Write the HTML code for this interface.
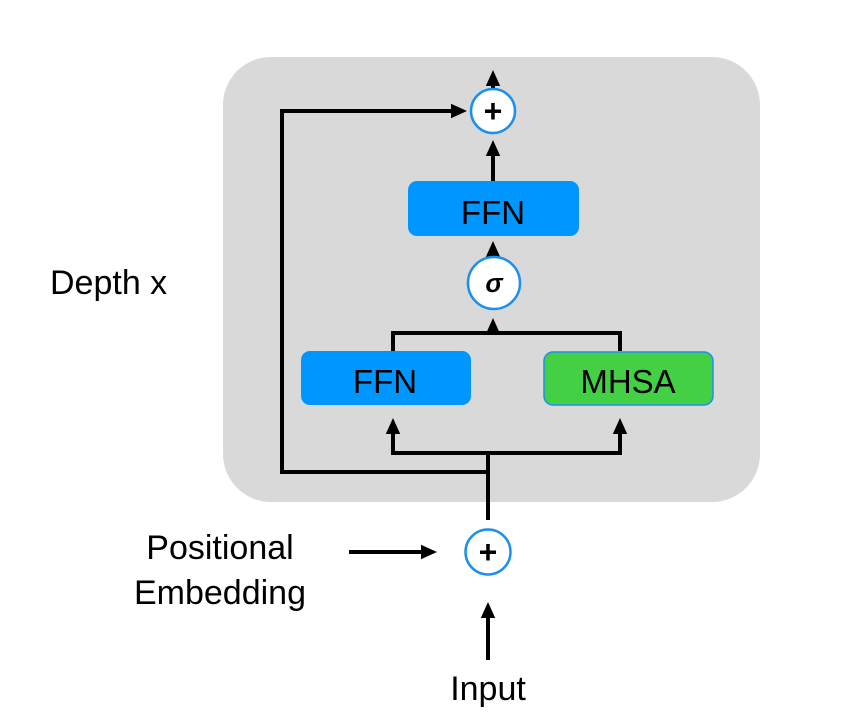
<!DOCTYPE html>
<html><head><style>body{margin:0;background:#fff}svg{display:block}text{font-family:"Liberation Sans",sans-serif}</style></head>
<body>
<svg width="855" height="717" viewBox="0 0 855 717" xmlns="http://www.w3.org/2000/svg">
<defs><marker id="a" markerWidth="5" markerHeight="4" refX="1" refY="2" orient="auto" markerUnits="strokeWidth"><path d="M0,0.2 L4,2 L0,3.8 z" fill="#000"/></marker></defs>
<rect x="223" y="57" width="537" height="445" rx="48" fill="#d9d9d9"/>
<g stroke="#000" stroke-width="4" fill="none">
<polyline points="488,520 488,472 282,472 282,111 455,111" marker-end="url(#a)"/>
<line x1="488" y1="472" x2="488" y2="453"/>
<line x1="493" y1="88" x2="493" y2="82" marker-end="url(#a)"/>
<line x1="493" y1="181" x2="493" y2="152" marker-end="url(#a)"/>
<line x1="493" y1="256" x2="493" y2="253" marker-end="url(#a)"/>
<polyline points="393,351 393,333 620,333 620,351"/>
<line x1="493" y1="333" x2="493" y2="330" marker-end="url(#a)"/>
<polyline points="393,430 393,453 620,453 620,430"/>
<line x1="393" y1="432" x2="393" y2="430" marker-end="url(#a)"/>
<line x1="620" y1="432" x2="620" y2="430" marker-end="url(#a)"/>
<line x1="349" y1="552" x2="425" y2="552" marker-end="url(#a)"/>
<line x1="488" y1="660" x2="488" y2="614" marker-end="url(#a)"/>
</g>
<circle cx="493" cy="111" r="22" fill="#fff" stroke="#1a8fef" stroke-width="2.5"/>
<text x="493" y="122" font-size="32" font-weight="bold" text-anchor="middle">+</text>
<rect x="408" y="181" width="171" height="55" rx="9" fill="#0096ff"/>
<text x="493" y="224" font-size="33" text-anchor="middle">FFN</text>
<circle cx="494" cy="283" r="26" fill="#fff" stroke="#1a8fef" stroke-width="2.5"/>
<text x="494" y="292" font-size="26" font-style="italic" font-weight="bold" font-family="Liberation Serif" text-anchor="middle">σ</text>
<rect x="301" y="351" width="170" height="54" rx="9" fill="#0096ff"/>
<text x="385" y="393" font-size="33" text-anchor="middle">FFN</text>
<rect x="544" y="352" width="169" height="53" rx="9" fill="#44d044" stroke="#1a8fef" stroke-width="1.5"/>
<text x="628" y="393" font-size="33" text-anchor="middle">MHSA</text>
<circle cx="488" cy="552" r="22.5" fill="#fff" stroke="#1a8fef" stroke-width="2.5"/>
<text x="488" y="563" font-size="32" font-weight="bold" text-anchor="middle">+</text>
<text x="50" y="294" font-size="34">Depth x</text>
<text x="220" y="559" font-size="34" text-anchor="middle">Positional</text>
<text x="220" y="604" font-size="34" text-anchor="middle">Embedding</text>
<text x="488" y="700" font-size="34" text-anchor="middle">Input</text>
</svg>
</body></html>
